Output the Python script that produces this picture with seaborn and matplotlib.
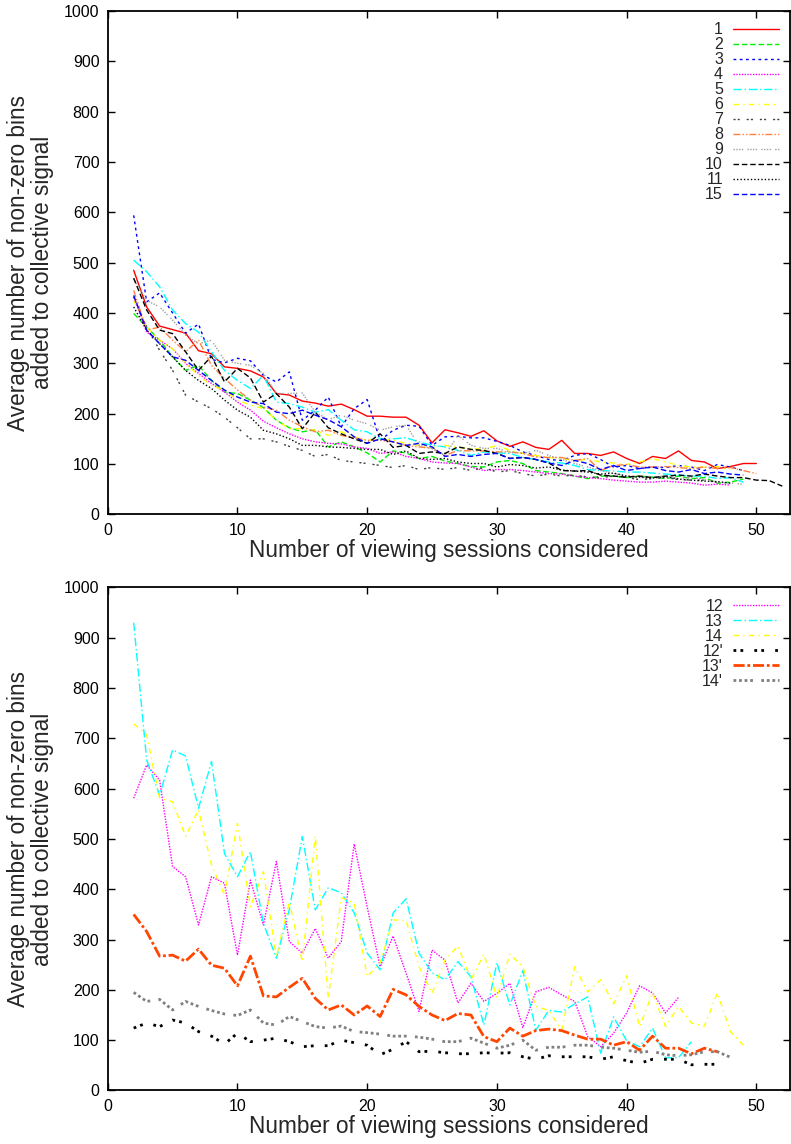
import numpy as np
import pandas as pd
import matplotlib
matplotlib.use("Agg")
import matplotlib.pyplot as plt
import seaborn as sns

sns.set_style("ticks")
plt.rcParams["font.family"] = ["Liberation Sans", "DejaVu Sans"]

# top panel series
s1 = [485, 412, 374, 367, 360, 325, 319, 293, 290, 285, 273, 240, 237,
      225, 221, 215, 219, 208, 195, 195, 193, 193, 177, 142, 168, 162, 155, 166, 146, 135,
      144, 133, 129, 147, 121, 121, 117, 124, 111, 101, 115, 111, 126, 107, 104, 91, 95, 101, 101]
s2 = [399, 372, 346, 313, 286, 296, 266, 243, 240, 227, 212, 187, 172,
      164, 168, 134, 144, 134, 122, 104, 126, 122, 111, 115, 106, 101, 95, 94, 104,
      107, 101, 87, 84, 81, 76, 71, 76, 76, 73, 76, 74, 71, 76, 71, 73, 62, 64, 70]
s3 = [594, 422, 440, 400, 360, 378, 308, 301, 310, 305, 276, 263, 283,
      187, 207, 233, 174, 210, 228, 147, 167, 177, 175, 137, 154, 155, 152, 152, 145,
      137, 124, 117, 109, 107, 117, 121, 109, 94, 97, 91, 94, 93, 97, 94, 87, 99, 94, 87]
s4 = [432, 362, 346, 329, 300, 280, 260, 243, 223, 207, 185, 172, 160,
      150, 144, 141, 140, 134, 131, 121, 124, 115, 111, 104, 102, 101, 94, 87, 89,
      89, 87, 84, 81, 80, 76, 73, 71, 68, 66, 64, 64, 66, 64, 62, 58, 60, 58]
s5 = [505, 482, 452, 406, 379, 362, 323, 286, 266, 250, 276, 223, 220,
      213, 203, 208, 187, 168, 164, 150, 150, 152, 144, 137, 134, 127, 117, 124, 122,
      121, 113, 109, 104, 102, 97, 89, 87, 86, 84, 84, 82, 80, 78, 76, 76, 71, 73, 64]
s6 = [425, 372, 346, 329, 300, 276, 256, 247, 227, 217, 210, 187, 170,
      170, 167, 157, 164, 154, 147, 150, 147, 141, 137, 133, 137, 133, 131, 129, 137,
      127, 121, 117, 113, 111, 107, 109, 104, 102, 99, 104, 111, 104, 97, 94, 94, 95, 89]
s7 = [432, 372, 326, 286, 237, 223, 210, 193, 172, 150, 150, 144, 135,
      127, 115, 119, 107, 104, 101, 97, 93, 97, 89, 93, 89, 93, 87, 93, 84,
      87, 81, 76, 80, 76, 78, 74, 73, 76, 73, 69, 71, 73, 69, 68, 68, 64]
s8 = [445, 366, 372, 346, 323, 346, 296, 270, 247, 227, 213, 207, 187,
      174, 164, 167, 157, 152, 147, 147, 144, 137, 134, 131, 117, 127, 126, 126, 124,
      124, 121, 114, 113, 113, 107, 111, 87, 97, 99, 94, 94, 95, 93, 91, 94, 91, 93, 87, 81]
s9 = [469, 425, 412, 386, 356, 339, 346, 306, 300, 296, 280, 240, 240,
      241, 203, 188, 197, 187, 180, 167, 174, 177, 137, 131, 117, 157, 137, 131, 131,
      124, 121, 127, 117, 109, 101, 94, 87, 81, 76, 73, 74, 76, 71, 74, 69, 64, 62, 60]
s10 = [469, 406, 366, 359, 323, 286, 314, 263, 290, 271, 223, 240, 213,
       170, 203, 172, 160, 150, 141, 160, 133, 137, 121, 124, 121, 134, 129, 127, 121,
       111, 113, 109, 102, 87, 86, 87, 78, 76, 74, 76, 73, 76, 78, 76, 80, 76, 73, 73, 68, 67, 56]
s11 = [412, 366, 339, 313, 286, 266, 250, 227, 207, 193, 167, 160, 150,
       137, 137, 134, 133, 131, 129, 129, 119, 126, 111, 109, 111, 104, 101, 101, 94,
       99, 97, 92, 94, 88, 86, 84, 80, 82, 76, 74, 72, 75, 70, 68, 66, 65, 62]
s15 = [435, 366, 339, 313, 306, 286, 266, 247, 233, 223, 220, 203, 200,
       207, 197, 188, 174, 154, 141, 150, 144, 137, 141, 134, 115, 119, 115, 119, 121,
       111, 113, 109, 102, 97, 107, 101, 89, 97, 87, 91, 94, 87, 84, 89, 81, 84, 80, 78]

# bottom panel series
s12 = [581, 647, 617, 445, 425, 329, 425, 412, 269, 418, 329, 455, 296,
       273, 322, 263, 296, 490, 365, 246, 307, 233, 157, 279, 259, 174, 213, 177, 193,
       213, 125, 196, 205, 190, 177, 107, 87, 114, 154, 208, 194, 154, 185]
s13 = [930, 657, 587, 677, 665, 561, 654, 471, 425, 475, 332, 263, 360,
       505, 359, 403, 393, 353, 273, 240, 353, 381, 273, 234, 220, 256, 226, 130, 254,
       170, 238, 120, 159, 156, 172, 186, 74, 146, 99, 87, 124, 65, 65, 97]
s14 = [729, 707, 581, 574, 505, 558, 448, 389, 531, 365, 435, 266, 375,
       256, 506, 184, 383, 373, 226, 254, 339, 338, 246, 193, 259, 287, 220, 271, 185,
       271, 246, 167, 159, 120, 246, 196, 220, 172, 228, 127, 194, 127, 167, 134, 128, 194, 117, 90]
s12p = [124, 134, 127, 140, 134, 117, 108, 92, 114, 97, 100, 104, 97,
        87, 89, 89, 100, 95, 90, 71, 82, 97, 77, 78, 75, 73, 73, 75, 74, 75,
        67, 62, 69, 67, 67, 67, 62, 67, 59, 54, 62, 62, 62, 51, 52, 52]
s13p = [350, 316, 267, 269, 257, 281, 249, 243, 208, 267, 188, 186, 205,
        223, 183, 160, 170, 150, 168, 147, 201, 190, 167, 150, 139, 153, 150, 107, 97, 124,
        108, 119, 122, 119, 110, 102, 102, 90, 97, 80, 108, 84, 84, 73, 84, 77]
s14p = [195, 177, 181, 160, 177, 167, 159, 152, 149, 160, 134, 130, 147,
        137, 127, 124, 128, 117, 115, 112, 108, 108, 106, 102, 97, 97, 104, 94, 84, 90,
        100, 80, 86, 86, 90, 90, 86, 84, 80, 76, 78, 71, 69, 71, 77, 77, 66]

top_series = [
    ("1", s1, "#ff0000", "-", 1.0),
    ("2", s2, "#00ee00", (0, (4, 2)), 1.0),
    ("3", s3, "#0000ff", (0, (2, 2.5)), 1.0),
    ("4", s4, "#ff00ff", (0, (1, 1)), 1.0),
    ("5", s5, "#00ffff", (0, (6, 2, 1, 2)), 1.0),
    ("6", s6, "#ffff00", (0, (4, 3, 1, 3)), 1.0),
    ("7", s7, "#404040", (0, (1.5, 1.5, 1.5, 5)), 1.0),
    ("8", s8, "#ff8040", (0, (5, 1.5, 1, 1.5, 1, 1.5)), 1.0),
    ("9", s9, "#a0a0a0", (0, (1, 1, 1, 1, 1, 1, 1, 3)), 1.0),
    ("10", s10, "#000000", (0, (4, 2)), 1.0),
    ("11", s11, "#000000", (0, (1, 1.5)), 1.0),
    ("15", s15, "#0000ff", (0, (4, 2)), 1.0),
]
bottom_series = [
    ("12", s12, "#ff00ff", (0, (1, 1)), 1.0),
    ("13", s13, "#00ffff", (0, (6, 2, 1, 2)), 1.0),
    ("14", s14, "#ffff00", (0, (4, 3, 1, 3)), 1.0),
    ("12'", s12p, "#000000", (0, (1, 1.5, 1, 4)), 2.0),
    ("13'", s13p, "#ff4500", (0, (4, 1, 1, 1)), 2.0),
    ("14'", s14p, "#808080", (0, (1, 1, 1, 1, 1, 1, 1, 3)), 2.0),
]

fig = plt.figure(figsize=(7.91, 11.44), dpi=100)
ax_top = fig.add_axes([0.1362, 0.5504, 0.8626, 0.4400])
ax_bot = fig.add_axes([0.1362, 0.0468, 0.8626, 0.4397])


def draw(ax, series):
    for name, vals, color, ls, lw in series:
        xs = np.arange(2, 2 + len(vals))
        sns.lineplot(x=xs, y=vals, ax=ax, color=color, linestyle=ls,
                     linewidth=lw, label=name)
    ax.set_xlim(0, 52.6)
    ax.set_ylim(0, 1000)
    ax.set_xticks(range(0, 51, 10))
    ax.set_yticks(range(0, 1001, 100))
    ax.tick_params(direction="in", length=5, width=1, labelsize=11.5,
                   top=True, right=True, pad=6, colors="black")
    for sp in ax.spines.values():
        sp.set_visible(True)
        sp.set_linewidth(1.3)
        sp.set_color("black")
    ax.set_xlabel("Number of viewing sessions considered", fontsize=16.3, labelpad=1)
    ax.set_ylabel("Average number of non-zero bins\nadded to collective signal",
                  fontsize=16.3, labelpad=7, linespacing=1.05)
    ax.legend(loc="upper right", frameon=False, markerfirst=False,
              fontsize=11.5, handlelength=2.9, handletextpad=0.6,
              labelspacing=0.0, borderaxespad=0.4, borderpad=0.3)


draw(ax_top, top_series)
draw(ax_bot, bottom_series)

fig.savefig("out.png", dpi=100)
